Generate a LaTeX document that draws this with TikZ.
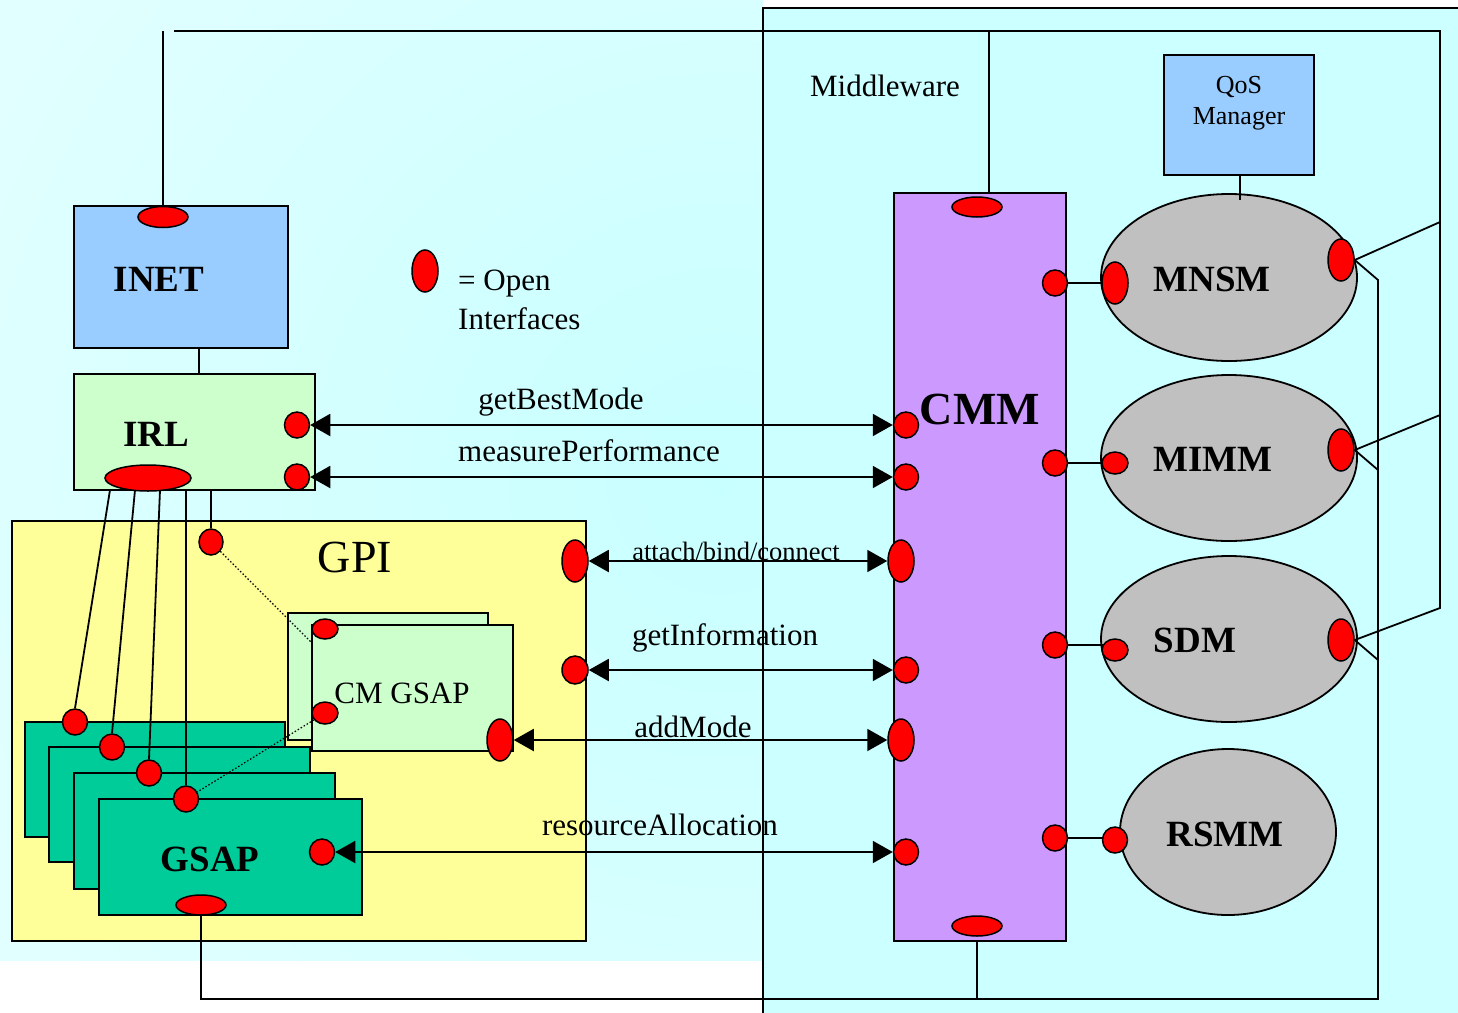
\documentclass[tikz,border=0pt]{standalone}
\usepackage{fontspec}
\setmainfont{Liberation Serif}
\usetikzlibrary{shapes.geometric,arrows.meta}
\definecolor{bgin}{HTML}{C8FFFF}
\definecolor{bgout}{HTML}{F6FFFF}
\definecolor{mwcyan}{HTML}{CCFFFF}
\definecolor{skyblue}{HTML}{99CCFF}
\definecolor{palegreen}{HTML}{CCFFCC}
\definecolor{paleyellow}{HTML}{FFFF99}
\definecolor{seagreen}{HTML}{00CC99}
\definecolor{lilac}{HTML}{CC99FF}
\definecolor{modgrey}{HTML}{C0C0C0}
\definecolor{portred}{HTML}{FF0000}
\pgfdeclarelayer{boxes}
\pgfdeclarelayer{wiring}
\pgfsetlayers{boxes,wiring,main}
\begin{document}
\begin{tikzpicture}[x=1pt,y=-1pt,
  box/.style={draw, line width=1.8pt, inner sep=0pt},
  module/.style={ellipse, draw, fill=modgrey, line width=1.8pt, inner sep=0pt},
  wire/.style={line width=1.8pt},
  port/.style={ellipse, draw, fill=portred, line width=1.5pt, inner sep=0pt},
  pbig/.style={port, minimum width=26pt, minimum height=42pt},
  psm/.style={port, minimum width=25pt, minimum height=26pt},
  pwide/.style={port, minimum width=50pt, minimum height=21pt},
  flow/.style={line width=2pt, {Triangle[length=20pt,width=22pt]}-{Triangle[length=20pt,width=22pt]}},
  lbl/.style={font=\fontsize{31}{37}\selectfont, anchor=base, inner sep=0pt},
  smalllbl/.style={font=\fontsize{26.5}{32}\selectfont, anchor=base, inner sep=0pt},
  ttl/.style={font=\fontsize{37}{44}\selectfont\bfseries, anchor=base, inner sep=0pt},
  bigttl/.style={font=\fontsize{46}{54}\selectfont, anchor=base, inner sep=0pt},
]
\useasboundingbox (0,0) rectangle (1458,1012);

\begin{pgfonlayer}{boxes}
% backdrop of the host side
\begin{scope}
  \clip (0,0) rectangle (763,960);
  \shade[inner color=bgin, outer color=bgout] (720,480) circle[radius=1500];
\end{scope}
% middleware area
\draw[line width=1.8pt, fill=mwcyan] (763,1030) -- (763,8) -- (1475,8) -- (1475,1030) -- cycle;

% boxes
\node[box, fill=skyblue, minimum width=214pt, minimum height=142pt] (inet) at (181,277) {};
\node[box, fill=palegreen, minimum width=241pt, minimum height=116pt] (irl) at (194.5,432) {};
\node[box, fill=paleyellow, minimum width=574pt, minimum height=420pt] (gpi) at (299,731) {};
\node[box, fill=palegreen, minimum width=200pt, minimum height=127pt] (cmBack) at (388,676.5) {};
\node[box, fill=palegreen, minimum width=201pt, minimum height=126pt] (cmFront) at (412.5,688) {};
\node[box, fill=seagreen, minimum width=260pt, minimum height=115pt] (g1) at (155,779.5) {};
\node[box, fill=seagreen, minimum width=261pt, minimum height=115pt] (g2) at (179.5,804.5) {};
\node[box, fill=seagreen, minimum width=261pt, minimum height=116pt] (g3) at (204.5,831) {};
\node[box, fill=seagreen, minimum width=263pt, minimum height=116pt] (g4) at (230.5,857) {};
\node[box, fill=lilac, minimum width=172pt, minimum height=748pt] (cmm) at (980,567) {};
\node[box, fill=skyblue, minimum width=150pt, minimum height=120pt] (qos) at (1239,115) {};
\node[module, minimum width=256pt, minimum height=167pt] (mnsm) at (1229,277.5) {};
\node[module, minimum width=256pt, minimum height=166pt] (mimm) at (1229,458) {};
\node[module, minimum width=256pt, minimum height=166pt] (sdm) at (1229,639) {};
\node[module, minimum width=216pt, minimum height=166pt] (rsmm) at (1228,832) {};
\end{pgfonlayer}

% open interfaces
\node[pwide] (inetT) at (163,217) {};
\node[psm] (irlR1) at (297,425) {};
\node[psm] (irlR2) at (297,477) {};
\node[port, minimum width=86pt, minimum height=26pt] (irlB) at (148,478) {};
\node[port, minimum width=24pt, minimum height=26pt] (gpiS) at (211,542) {};
\node[pbig] (gpiR1) at (575,561) {};
\node[port, minimum width=26pt, minimum height=28pt] (gpiR2) at (575,670) {};
\node[port, minimum width=26pt, minimum height=20pt] (cmP1) at (325,629) {};
\node[port, minimum width=26pt, minimum height=22pt] (cmP2) at (325,713) {};
\node[pbig] (cmR) at (500,740) {};
\node[psm] (g1T) at (75,722) {};
\node[psm] (g2T) at (112,747) {};
\node[psm] (g3T) at (149,773) {};
\node[psm] (g4T) at (186,799) {};
\node[psm] (g4R) at (322,852) {};
\node[port, minimum width=50pt, minimum height=20pt] (g4B) at (201,905) {};
\node[port, minimum width=50pt, minimum height=20pt] (cmmT) at (977,207) {};
\node[port, minimum width=50pt, minimum height=20pt] (cmmB) at (977,926) {};
\node[psm] (cmmL1) at (906,425) {};
\node[psm] (cmmL2) at (906,477) {};
\node[pbig] (cmmL3) at (901,561) {};
\node[psm] (cmmL4) at (906,670) {};
\node[pbig] (cmmL5) at (901,740) {};
\node[psm] (cmmL6) at (906,852) {};
\node[psm] (cmmR1) at (1055,283) {};
\node[psm] (cmmR2) at (1055,463) {};
\node[psm] (cmmR3) at (1055,645) {};
\node[psm] (cmmR4) at (1055,838) {};
\node[pbig] (mnsmL) at (1115,283) {};
\node[pbig] (mnsmR) at (1341,260) {};
\node[port, minimum width=26pt, minimum height=22pt] (mimmL) at (1115,463) {};
\node[pbig] (mimmR) at (1341,450) {};
\node[port, minimum width=26pt, minimum height=22pt] (sdmL) at (1115,650) {};
\node[pbig] (sdmR) at (1341,640) {};
\node[psm] (rsmmL) at (1115,840) {};
\node[pbig] (legend) at (425,271) {};

% wiring corners
\coordinate (topL) at (174,31);
\coordinate (topR) at (1440,31);
\coordinate (rA) at (1440,222);
\coordinate (rB) at (1440,415);
\coordinate (rC) at (1440,608);
\coordinate (inetUp) at (163,31);
\coordinate (cmmUp) at (989,31);
\coordinate (bl) at (201,999);
\coordinate (br) at (1378,999);
\coordinate (bA) at (1378,280);
\coordinate (bB) at (1378,470);
\coordinate (bC) at (1378,660);
\coordinate (x199) at (199,0);
\coordinate (qosDrop) at (1240,200);
\coordinate (s1) at (110,490);
\coordinate (s2) at (135,490);
\coordinate (s3) at (160,490);
\coordinate (s4) at (186,490);
\coordinate (s5) at (211,490);
\coordinate (cmDot) at (312,643);

\begin{pgfonlayer}{wiring}
\begin{scope}[wire]
  \draw (topL) -- (topR) -- (rC) -- (sdmR.east);
  \draw (rA) -- (mnsmR.east);
  \draw (rB) -- (mimmR.east);
  \draw (inetUp) -- (inetT.north);
  \draw (cmmUp) -- (cmmUp |- cmm.north);
  \draw (g4B.south) -- (bl) -- (br) -- (bA) -- (mnsmR.east);
  \draw (bB) -- (mimmR.east);
  \draw (bC) -- (sdmR.east);
  \draw (cmm.south -| cmmB) -- (cmmB |- bl);
  \draw (inet.south -| x199) -- (irl.north -| x199);
  \draw (qosDrop |- qos.south) -- (qosDrop);
  \draw (s1) -- (g1T.north);
  \draw (s2) -- (g2T.north);
  \draw (s3) -- (g3T.north);
  \draw (s4) -- (g4T.north);
  \draw (s5) -- (gpiS.north);
  \draw (cmmR1.east) -- (mnsmL.west);
  \draw (cmmR2.east) -- (mimmL.west);
  \draw (cmmR3.east) -- (sdmL.center |- cmmR3.east);
  \draw (cmmR4.east) -- (rsmmL.center |- cmmR4.east);
\end{scope}
\draw[line width=1.2pt, dash pattern=on 1.5pt off 2pt] (gpiS) -- (cmDot);
\draw[line width=1.2pt, dash pattern=on 1.5pt off 2pt] (cmP2) -- (g4T);
\end{pgfonlayer}

% method calls
\draw[flow] (irlR1.east) -- (cmmL1.west);
\draw[flow] (irlR2.east) -- (cmmL2.west);
\draw[flow] (gpiR1.east) -- (cmmL3.west);
\draw[flow] (gpiR2.east) -- (cmmL4.west);
\draw[flow] (cmR.east) -- (cmmL5.west);
\draw[flow] (g4R.east) -- (cmmL6.west);

% texts
\node[lbl] (tMw) at (885,96) {Middleware};
\node[ttl] (tInet) at (159,291) {INET};
\node[ttl] (tIrl) at (156,446) {IRL};
\node[bigttl] (tGpi) at (355,572) {GPI};
\node[lbl] (tCm) at (402,703) {CM GSAP};
\node[ttl] (tGsap) at (210,871) {GSAP};
\node[bigttl, font=\fontsize{46}{54}\selectfont\bfseries] (tCmm) at (980,424) {CMM};
\node[ttl] (tMnsm) at (1212,291) {MNSM};
\node[ttl] (tMimm) at (1213,471) {MIMM};
\node[ttl] (tSdm) at (1195,652) {SDM};
\node[ttl] (tRsmm) at (1225,846) {RSMM};
\node[lbl, font=\fontsize{26}{31}\selectfont] (tQos1) at (1239,93) {QoS};
\node[lbl, font=\fontsize{26}{31}\selectfont] (tQos2) at (1239,124) {Manager};
\node[lbl, anchor=base west] (tLeg1) at (458,290) {= Open};
\node[lbl, anchor=base west] (tLeg2) at (458,329) {Interfaces};
\node[lbl] (tGbm) at (561,409) {getBestMode};
\node[lbl] (tMp) at (589,461) {measurePerformance};
\node[smalllbl] (tAbc) at (736,560) {attach/bind/connect};
\node[lbl] (tGi) at (725,645) {getInformation};
\node[lbl] (tAm) at (693,737) {addMode};
\node[lbl] (tRa) at (660,835) {resourceAllocation};
\end{tikzpicture}
\end{document}
